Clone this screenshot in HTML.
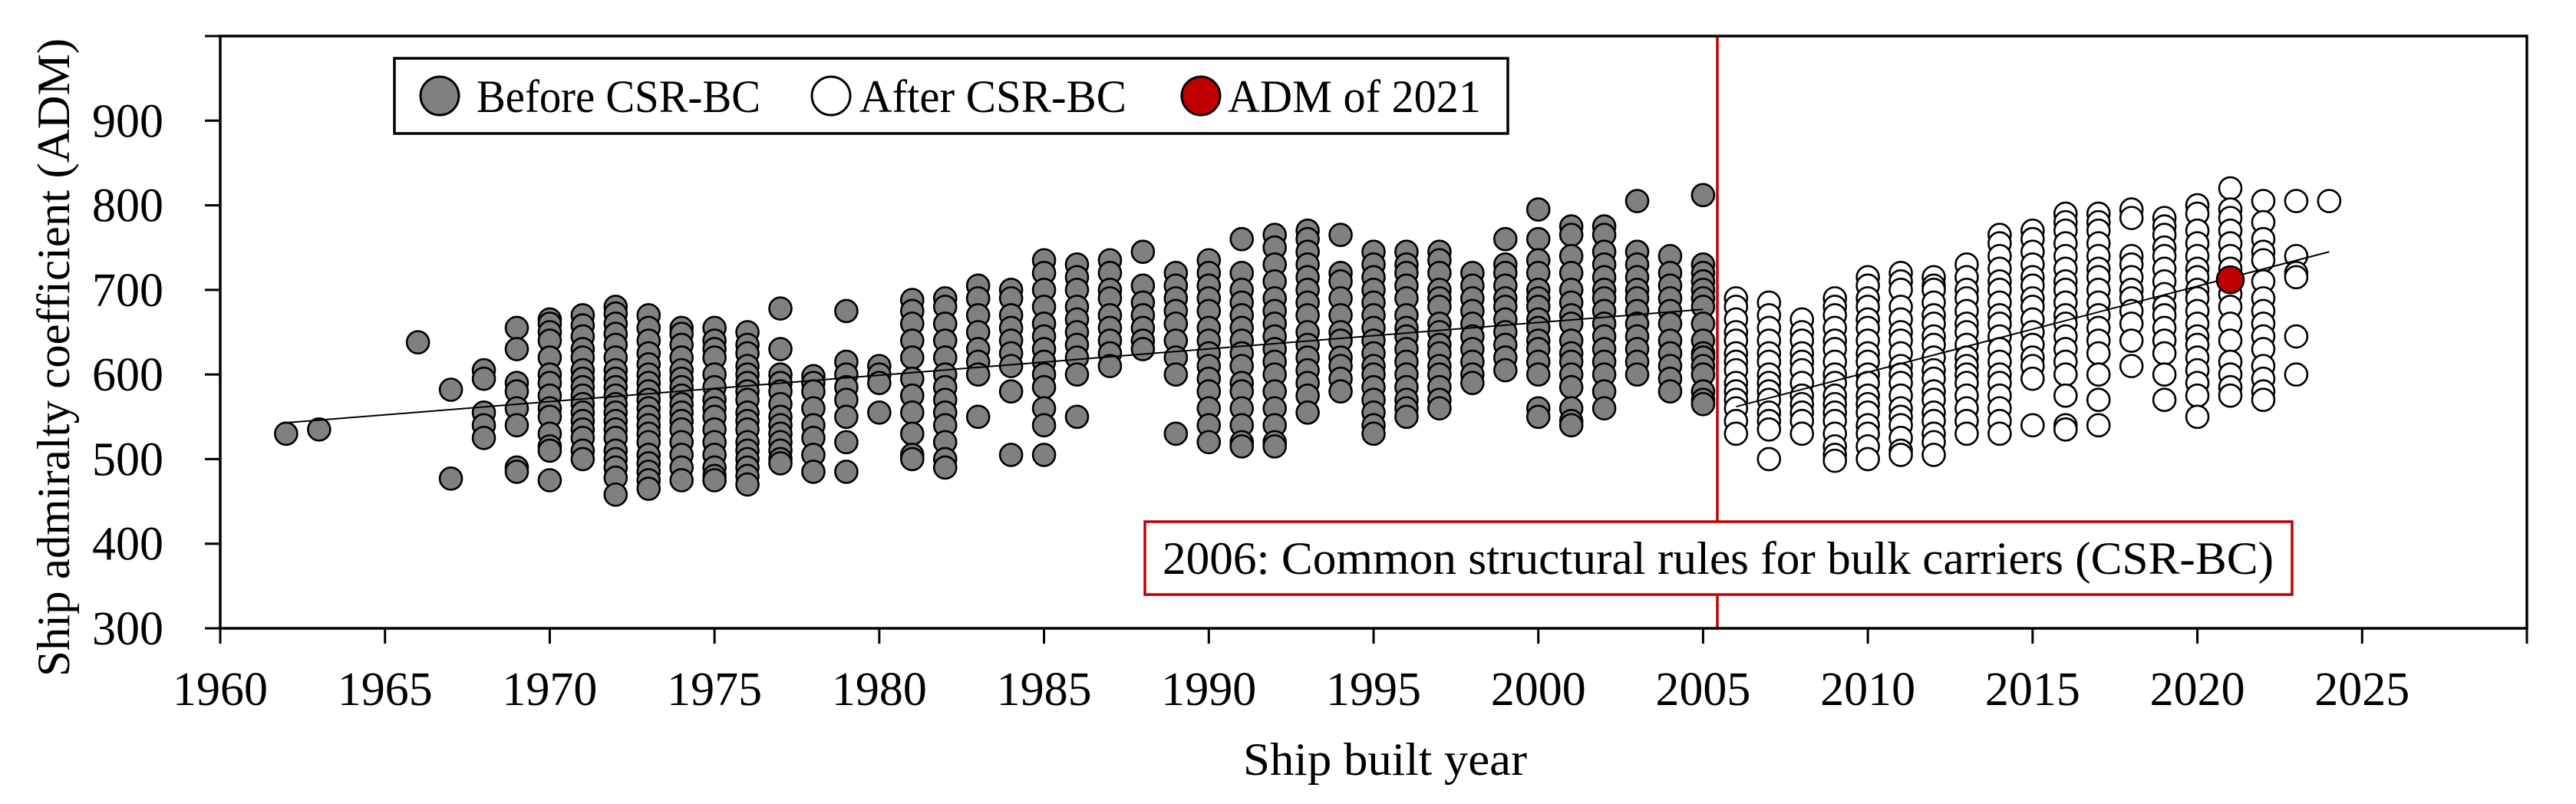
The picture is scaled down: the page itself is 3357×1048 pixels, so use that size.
<!DOCTYPE html>
<html><head><meta charset="utf-8">
<style>
html,body{margin:0;padding:0;background:#fff;}
svg{display:block;font-family:"Liberation Serif",serif;}
</style></head>
<body>
<svg id="chart" width="3357" height="1048" viewBox="0 0 3357 1048" xmlns="http://www.w3.org/2000/svg">
<rect x="0" y="0" width="3357" height="1048" fill="#fff"/>
<g id="plot"></g>
</svg>
<script>
const xTicks = [1960,1965,1970,1975,1980,1985,1990,1995,2000,2005,2010,2015,2020,2025,2030];
const xTickLabels = ["1960","1965","1970","1975","1980","1985","1990","1995","2000","2005","2010","2015","2020","2025",""];
const yTicks = [300,400,500,600,700,800,900,1000];
const yTickLabels = ["300","400","500","600","700","800","900",""];
const beforeYears = [1962,1963,1966,1967,1968,1969,1970,1971,1972,1973,1974,1975,1976,1977,1978,1979,1980,1981,1982,1983,1984,1985,1986,1987,1988,1989,1990,1991,1992,1993,1994,1995,1996,1997,1998,1999,2000,2001,2002,2003,2004,2005];
const beforeValues = [
 [530],[535],[638],[582,477],[605,595,555,540,525],
 [655,630,590,580,560,540,490,485],
 [665,660,650,640,620,600,590,575,560,550,530,515,510,475],
 [670,658,645,630,620,605,595,585,575,565,555,545,535,525,510,500],
 [680,672,660,648,635,620,605,595,585,575,565,555,545,535,525,510,500,490,478,458],
 [670,655,640,625,612,600,590,580,570,560,550,540,530,520,505,495,485,475,465],
 [655,648,635,620,605,595,585,575,565,555,545,535,520,505,490,475],
 [655,640,630,620,600,585,570,560,550,535,520,505,490,480,475],
 [650,635,625,610,600,590,580,570,555,545,535,520,510,500,490,480,470],
 [678,630,600,590,580,565,550,540,530,520,510,500,495],
 [598,590,580,560,540,525,505,485],
 [675,615,600,585,570,550,520,485],
 [610,600,590,555],
 [688,675,660,640,620,595,575,555,530,505,500],
 [690,680,660,640,620,600,585,570,555,540,520,500,490],
 [705,690,670,650,630,615,600,550],
 [700,690,670,655,640,625,610,580,505],
 [735,720,700,680,660,645,630,615,600,585,560,540,505],
 [730,715,700,680,665,650,635,620,600,550],
 [735,720,700,690,670,655,640,625,610],
 [745,705,685,670,655,640,630],
 [720,705,690,675,660,640,620,600,530],
 [735,720,705,690,675,655,640,625,610,595,580,560,540,520],
 [760,720,700,685,670,655,640,625,610,590,580,560,540,520,515],
 [765,750,730,710,690,675,660,645,630,615,600,580,560,540,520,515],
 [770,760,745,730,715,700,685,670,650,635,620,605,590,575,555],
 [765,720,710,690,670,650,640,620,610,595,580],
 [745,730,715,700,685,670,655,640,625,610,600,585,570,555,540,530],
 [745,730,720,705,690,670,655,645,630,615,600,585,570,560,550],
 [745,735,720,700,690,680,660,650,635,625,610,600,585,570,560],
 [720,705,690,675,660,645,630,615,600,590],
 [760,730,720,705,690,680,665,650,635,620,605],
 [795,760,735,720,700,690,680,665,655,640,630,615,600,560,550],
 [775,765,740,720,700,685,670,660,640,625,615,600,585,560,545,540],
 [775,765,745,730,715,700,690,675,660,645,630,615,600,580,560],
 [805,745,730,715,700,690,675,660,645,630,615,600],
 [740,720,705,690,675,660,640,625,610,595,580],
 [812,730,720,710,700,690,680,660,640,625,620,610,600,580,570,565]
];
const afterYears = [2006,2007,2008,2009,2010,2011,2012,2013,2014,2015,2016,2017,2018,2019,2020,2021,2022,2023,2024];
const afterValues = [
 [690,680,665,650,640,625,615,605,590,580,570,560,545,530],
 [685,670,655,640,625,615,600,590,580,570,555,545,535,500],
 [665,650,640,625,615,605,590,575,565,555,545,530],
 [690,680,670,655,640,630,615,600,590,575,565,555,545,530,515,505,498],
 [715,705,690,680,665,655,640,625,615,600,590,575,565,555,540,530,515,500],
 [720,710,700,680,665,650,640,625,610,600,590,575,560,550,540,525,510,505],
 [715,705,700,685,670,660,645,635,620,605,595,580,570,555,545,530,520,505],
 [730,715,700,690,675,660,650,635,620,610,600,590,575,560,545,530],
 [765,755,740,725,710,700,685,670,660,645,630,615,600,590,575,560,545,530],
 [770,760,745,730,715,705,690,680,665,650,635,620,610,595,540],
 [790,780,770,755,740,725,710,700,685,670,660,645,630,615,600,575,540,535],
 [790,780,770,755,740,725,715,700,685,670,655,640,625,600,570,540],
 [795,785,740,730,715,700,690,675,660,640,610],
 [785,775,765,750,740,725,710,695,680,670,655,640,625,600,570],
 [800,790,770,755,740,725,715,700,690,675,660,645,635,620,605,590,575,550],
 [820,795,785,770,755,740,725,710,695,680,660,640,615,600,585,575],
 [805,780,760,745,735,710,690,675,660,645,630,610,595,580,570],
 [805,740,720,715,645,600],
 [805]
];
const admYear = [2021];
const admValue = [712];
const trendBefore = [[1962,543],[2005,677]];
const trendAfter = [[2006,562],[2024,745]];

const X0=287, X1=3293, Y0=819, Y1=47;
const xMin=1960, xMax=2030, yMin=300, yMax=1000;
function sx(v){return X0+(v-xMin)*(X1-X0)/(xMax-xMin);}
function sy(v){return Y0-(v-yMin)*(Y0-Y1)/(yMax-yMin);}
const NS="http://www.w3.org/2000/svg";
const plot=document.getElementById('plot');
function mk(tag,attrs,parent){const e=document.createElementNS(NS,tag);for(const k in attrs)e.setAttribute(k,attrs[k]);(parent||plot).appendChild(e);return e;}

const gB=mk('g',{});


beforeYears.forEach((yr,i)=>{beforeValues[i].forEach(v=>{
  const c=mk('circle',{cx:sx(yr),cy:sy(v),r:14.5,fill:'#808080',stroke:'#000','stroke-width':2.6},gB);
  
  
});});
const gA=mk('g',{});


afterYears.forEach((yr,i)=>{afterValues[i].forEach(v=>{
  const c=mk('circle',{cx:sx(yr),cy:sy(v),r:14.5,fill:'#fff',stroke:'#000','stroke-width':2.6},gA);
  
  
});});
const t1=mk('line',{x1:sx(trendBefore[0][0]),y1:sy(trendBefore[0][1]),x2:sx(trendBefore[1][0]),y2:sy(trendBefore[1][1]),stroke:'#000','stroke-width':2});


const t2=mk('line',{x1:sx(trendAfter[0][0]),y1:sy(trendAfter[0][1]),x2:sx(trendAfter[1][0]),y2:sy(trendAfter[1][1]),stroke:'#000','stroke-width':2});


const adm=mk('circle',{cx:sx(admYear[0]),cy:sy(admValue[0]),r:17.5,fill:'#c00000',stroke:'#000','stroke-width':2.6});


const rl=mk('line',{x1:2238,y1:Y1,x2:2238,y2:Y0,stroke:'#c00000','stroke-width':3.5});


const fr=mk('rect',{x:X0,y:Y1,width:X1-X0,height:Y0-Y1,fill:'none',stroke:'#000','stroke-width':3.5});


xTicks.forEach((t,i)=>{
  const l=mk('line',{x1:sx(t),y1:Y0,x2:sx(t),y2:Y0+20,stroke:'#000','stroke-width':3});
  
  
  if(xTickLabels[i]){
  const tx=mk('text',{x:sx(t),y:Y0+100,'font-size':62,'text-anchor':'middle',fill:'#000'});
  tx.textContent=xTickLabels[i];
  
  }
});
yTicks.forEach((t,i)=>{
  const l=mk('line',{x1:X0-20,y1:sy(t),x2:X0,y2:sy(t),stroke:'#000','stroke-width':3});
  
  
  if(yTickLabels[i]){
  const tx=mk('text',{x:213,y:sy(t)+21,'font-size':62,'text-anchor':'end',fill:'#000'});
  tx.textContent=yTickLabels[i];
  
  }
});
const yt=mk('text',{x:0,y:0,'font-size':60,'text-anchor':'middle',transform:'translate(90,466) rotate(-90)',fill:'#000',textLength:832,lengthAdjust:'spacingAndGlyphs'});
yt.textContent='Ship admiralty coefficient (ADM)';


const xt=mk('text',{x:1805,y:1010,'font-size':60,'text-anchor':'middle',fill:'#000',textLength:370,lengthAdjust:'spacingAndGlyphs'});
xt.textContent='Ship built year';


const ab=mk('rect',{x:1492,y:680,width:1495,height:95,fill:'#fff',stroke:'#c00000','stroke-width':3.5});


const at=mk('text',{x:2239,y:748,'font-size':60,'text-anchor':'middle',fill:'#000',textLength:1448,lengthAdjust:'spacingAndGlyphs'});
at.textContent='2006: Common structural rules for bulk carriers (CSR-BC)';


const lg=mk('g',{});


const lb=mk('rect',{x:514,y:76,width:1451,height:98,fill:'#fff',stroke:'#000','stroke-width':3.5},lg);


const items=[[573,'#808080','Before CSR-BC',621,370],[1083,'#fff','After CSR-BC',1120,348],[1565,'#c00000','ADM of 2021',1600,330]];
items.forEach(it=>{
  const c=mk('circle',{cx:it[0],cy:125,r:25,fill:it[1],stroke:'#000','stroke-width':3},lg);
  
  
  const t=mk('text',{x:it[3],y:146,'font-size':60,fill:'#000',textLength:it[4],lengthAdjust:'spacingAndGlyphs'},lg);
  t.textContent=it[2];
  
  
});
</script>
</body></html>
